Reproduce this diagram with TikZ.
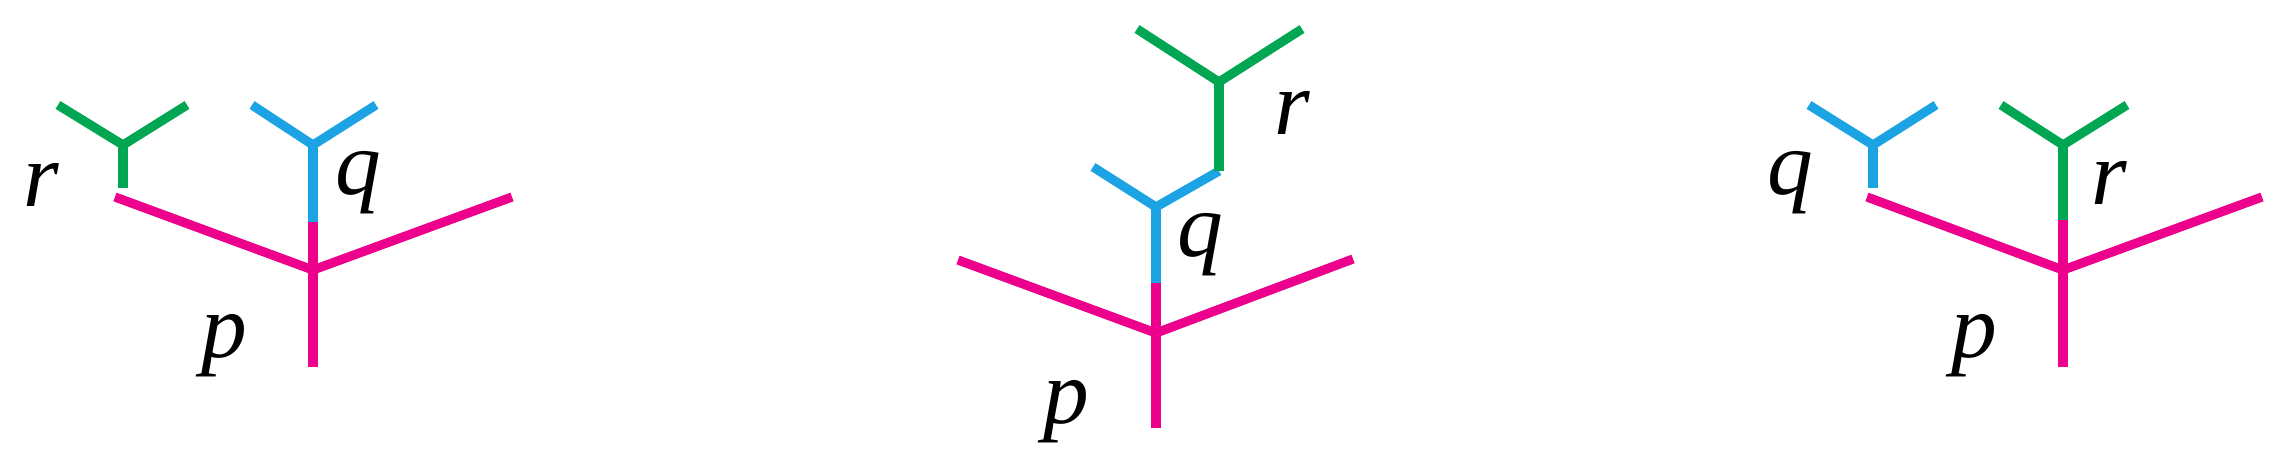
\documentclass[tikz,border=0pt]{standalone}
\usepackage{fontspec}
\setmainfont{Liberation Serif}
\usepackage{tikz}

\definecolor{pinkp}{HTML}{EC008C}
\definecolor{blueq}{HTML}{1BA3E3}
\definecolor{greenr}{HTML}{00A651}

\tikzset{
  pline/.style={pinkp, line width=2.6pt, line cap=butt, line join=miter},
  qline/.style={blueq, line width=2.6pt, line cap=butt, line join=miter},
  rline/.style={greenr, line width=2.6pt, line cap=butt, line join=miter},
  lab/.style={anchor=base, inner sep=0pt, font=\fontsize{26}{30}\selectfont\itshape}
}

\begin{document}
\begin{tikzpicture}[x=0.01cm, y=-0.01cm]
  \useasboundingbox (0,0) rectangle (2296,476);

  % left tree
  \coordinate (pLj) at (313,270); \coordinate (pLl) at (115,197);
  \coordinate (pLr) at (512,197); \coordinate (pLb) at (313,367);
  \coordinate (pLt) at (313,222);
  \coordinate (qLj) at (313,145); \coordinate (qLl) at (252,105);
  \coordinate (qLr) at (376,105);
  \coordinate (rLj) at (123,145); \coordinate (rLl) at (58,105);
  \coordinate (rLr) at (187,105); \coordinate (rLb) at (123,188);
  \draw[pline] (pLl) -- (pLj) -- (pLr);
  \draw[pline] (pLt) -- (pLb);
  \draw[qline] (qLl) -- (qLj) -- (qLr);
  \draw[qline] (qLj) -- (pLt);
  \draw[rline] (rLl) -- (rLj) -- (rLr);
  \draw[rline] (rLj) -- (rLb);
  \node[lab] (rL) at (41,207) {r};
  \node[lab] (qL) at (358,195) {q};
  \node[lab] (pL) at (224,357) {p};

  % middle tree
  \coordinate (pMj) at (1156,333); \coordinate (pMl) at (958,260);
  \coordinate (pMr) at (1353,259); \coordinate (pMb) at (1156,428);
  \coordinate (pMt) at (1156,283);
  \coordinate (qMj) at (1156,207); \coordinate (qMl) at (1093,167);
  \coordinate (rMb) at (1219,171);
  \coordinate (rMj) at (1219,82); \coordinate (rMl) at (1137,29);
  \coordinate (rMr) at (1302,29);
  \draw[pline] (pMl) -- (pMj) -- (pMr);
  \draw[pline] (pMt) -- (pMb);
  \draw[qline] (qMl) -- (qMj) -- (rMb);
  \draw[qline] (qMj) -- (pMt);
  \draw[rline] (rMl) -- (rMj) -- (rMr);
  \draw[rline] (rMj) -- (rMb);
  \node[lab] (qM) at (1200,257) {q};
  \node[lab] (rM) at (1292,135) {r};
  \node[lab] (pM) at (1066,423) {p};

  % right tree
  \coordinate (pRj) at (2063,270); \coordinate (pRl) at (1867,197);
  \coordinate (pRr) at (2262,197); \coordinate (pRb) at (2063,367);
  \coordinate (pRt) at (2063,220);
  \coordinate (rRj) at (2063,145); \coordinate (rRl) at (2001,105);
  \coordinate (rRr) at (2127,105);
  \coordinate (qRj) at (1873,145); \coordinate (qRl) at (1809,105);
  \coordinate (qRr) at (1936,105); \coordinate (qRb) at (1873,188);
  \draw[pline] (pRl) -- (pRj) -- (pRr);
  \draw[pline] (pRt) -- (pRb);
  \draw[rline] (rRl) -- (rRj) -- (rRr);
  \draw[rline] (rRj) -- (pRt);
  \draw[qline] (qRl) -- (qRj) -- (qRr);
  \draw[qline] (qRj) -- (qRb);
  \node[lab] (qR) at (1790,195) {q};
  \node[lab] (rR) at (2109,205) {r};
  \node[lab] (pR) at (1974,357) {p};
\end{tikzpicture}
\end{document}
